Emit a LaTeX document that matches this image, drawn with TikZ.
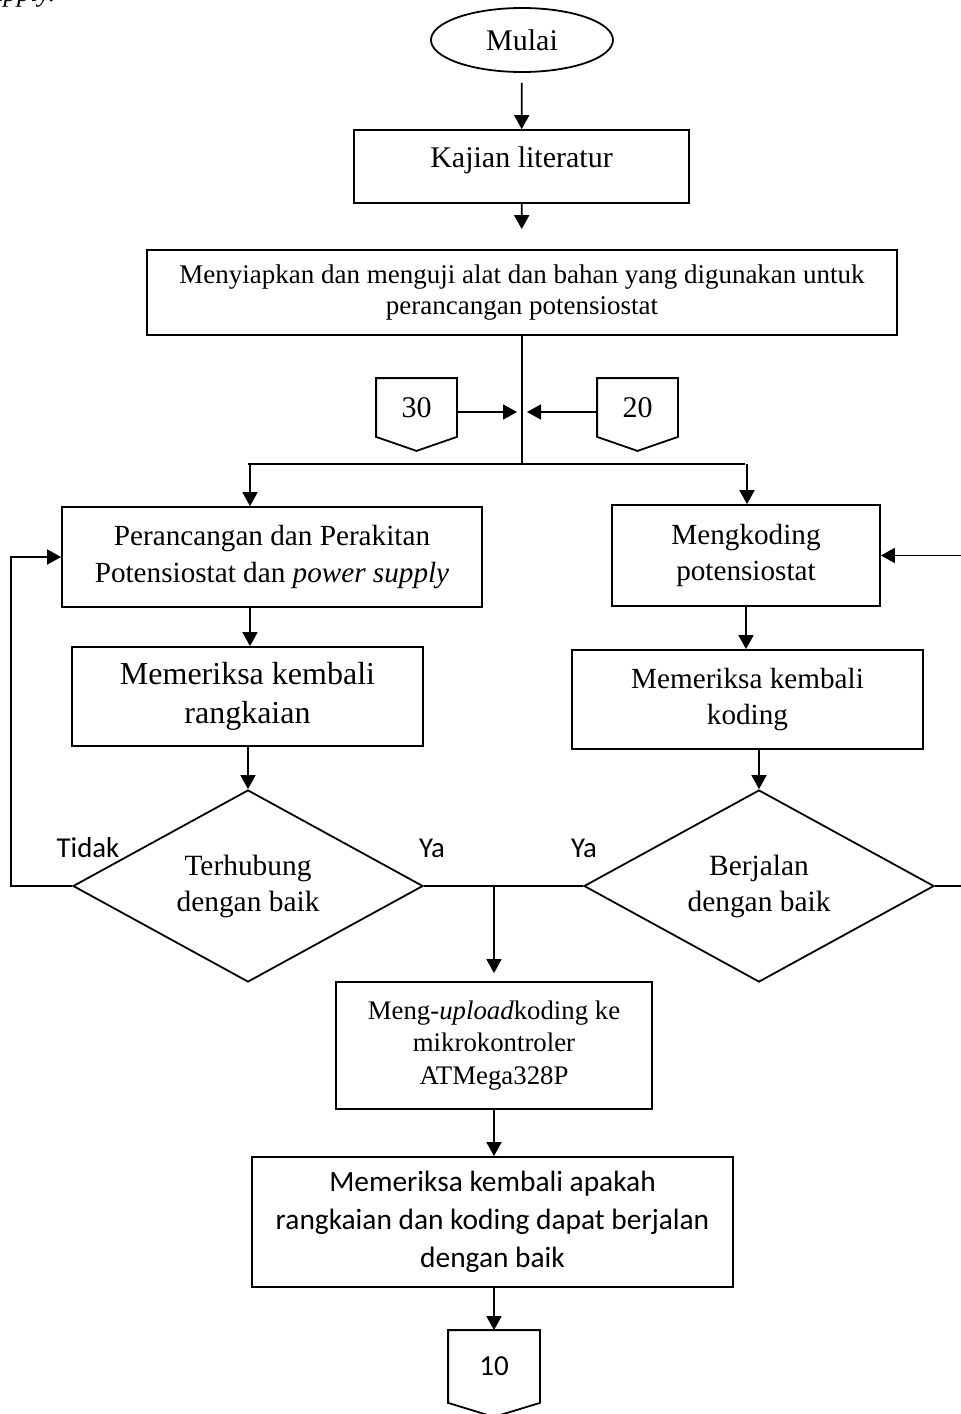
\documentclass[tikz,border=0pt]{standalone}
\usepackage{fontspec}
\setmainfont{Liberation Serif}
\newfontfamily\calibri{Carlito}
\usetikzlibrary{arrows.meta,shapes.geometric}
\begin{document}
\begin{tikzpicture}[x=0.5pt,y=-0.5pt,line width=0.9pt,
	kotak/.style={draw,rectangle,align=center,inner sep=0pt},
	belah/.style={draw,diamond,aspect=1.8,inner sep=0pt,minimum width=175pt,minimum height=96pt,align=center,font=\fontsize{14.7}{18}\selectfont},
	panah/.style={-{Triangle[length=7pt,width=7.5pt]}},
	ket/.style={font=\calibri\fontsize{14.4}{16}\selectfont},
	konektor/.style={inner sep=0pt}]
	\useasboundingbox (0,0) rectangle (960,1414);
	\node[anchor=base east,font=\fontsize{13.5}{16}\selectfont\itshape] (potong) at (63,1) {supply.};
	\node[draw,ellipse,minimum width=91pt,minimum height=32pt,inner sep=0pt,font=\fontsize{15}{18}\selectfont] (mulai) at (522,40) {Mulai};
	\node[draw,rectangle,inner sep=0pt,minimum width=167.5pt,minimum height=36.5pt,font=\fontsize{15}{18}\selectfont,text depth=9pt] (kajian) at (521.5,166.5) {Kajian literatur};
	\node[kotak,minimum width=375pt,minimum height=42.5pt,font=\fontsize{13.5}{15.5}\selectfont] (siap) at (522,292.5) {Menyiapkan dan menguji alat dan bahan yang digunakan untuk\\perancangan potensiostat};
	\node[konektor,minimum width=39.5pt,minimum height=28.5pt,font=\fontsize{15}{18}\selectfont] (c30) at (416.5,407.5) {30};
	\node[konektor,minimum width=39.5pt,minimum height=28.5pt,font=\fontsize{15}{18}\selectfont] (c20) at (637.5,407.5) {20};
	\node[kotak,minimum width=210pt,minimum height=50pt,font=\fontsize{14.6}{18.3}\selectfont] (rancang) at (272,557) {Perancangan dan Perakitan\\Potensiostat dan \textit{power supply}};
	\node[kotak,minimum width=175.5pt,minimum height=49.5pt,font=\fontsize{16}{19.5}\selectfont] (cekrangkai) at (247.5,696.5) {Memeriksa kembali\\rangkaian};
	\node[kotak,minimum width=134pt,minimum height=50.5pt,font=\fontsize{14.6}{18.3}\selectfont] (kode) at (746,555.5) {Mengkoding\\potensiostat};
	\node[kotak,minimum width=175.5pt,minimum height=49.5pt,font=\fontsize{14.6}{18.3}\selectfont] (cekkode) at (747.5,699.5) {Memeriksa kembali\\koding};
	\node[belah] (hubung) at (248,886) {Terhubung\\dengan baik};
	\node[belah] (jalan) at (759,886) {Berjalan\\dengan baik};
	\node[kotak,minimum width=158pt,minimum height=63.5pt,font=\fontsize{13.4}{16.3}\selectfont] (upload) at (494,1045.5) {Meng-\textit{upload}koding ke\\mikrokontroler\\ATMega328P};
	\node[kotak,minimum width=240.5pt,minimum height=65pt,font=\calibri\fontsize{14.7}{18.9}\selectfont] (cekakhir) at (492.5,1222) {Memeriksa kembali apakah\\rangkaian dan koding dapat berjalan\\dengan baik};
	\node[konektor,minimum width=45pt,minimum height=35.5pt,font=\calibri\fontsize{14.5}{17}\selectfont] (c10) at (494,1366.5) {10};
	\foreach \n in {c30,c20,c10}
		\draw (\n.north west) -- (\n.north east) -- (\n.south east) -- ([yshift=-7pt]\n.south) -- (\n.south west) -- cycle;
	\node[ket] (tidak) at (88,848) {Tidak};
	\node[ket] (ya1) at (432,848) {Ya};
	\node[ket] (ya2) at (584,848) {Ya};
	\coordinate (cab) at (522,464);
	\coordinate (mid) at (522,412);
	\coordinate (cabL) at (250,464);
	\coordinate (cabR) at (747,464);
	\coordinate (ya) at (494,887);
	\draw[panah,shorten <=5pt] (mulai) -- (kajian);
	\draw[panah,shorten >=10pt] (kajian) -- (siap);
	\draw (siap.south) -- (cab);
	\draw[panah] (c30.east |- mid) -- ([xshift=-2.5pt]mid);
	\draw[panah] (c20.west |- mid) -- ([xshift=2.5pt]mid);
	\draw ([xshift=-1pt]cabL) -- ([xshift=-1pt]cabR);
	\draw[panah] (cabL) -- (cabL |- rancang.north);
	\draw[panah] (cabR) -- (cabR |- kode.north);
	\draw[panah] (cabL |- rancang.south) -- (cabL |- cekrangkai.north);
	\draw[panah] (cekrangkai.south -| hubung.north) -- (hubung.north);
	\draw[panah] (kode.south) -- (kode.south |- cekkode.north);
	\draw[panah] (cekkode.south -| jalan.north) -- (jalan.north);
	\draw (hubung.east) -- (jalan.west);
	\draw[panah,shorten >=4pt] (ya) -- (ya |- upload.north);
	\draw[panah] (upload.south) -- (upload.south |- cekakhir.north);
	\draw[panah] (cekakhir.south -| c10.north) -- (c10.north);
	\draw[panah] (hubung.west) -- ++(-61,0) |- (rancang.west);
	\draw[panah] (jalan.east) -- ++(40,0) |- (kode.east);
\end{tikzpicture}
\end{document}
